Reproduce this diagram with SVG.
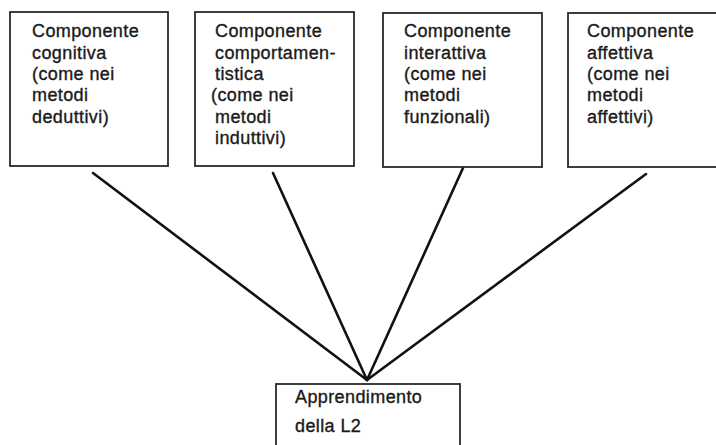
<svg xmlns="http://www.w3.org/2000/svg" width="716" height="445" viewBox="0 0 716 445">
<style>
.box{fill:#fff;stroke:#2a2a2a;stroke-width:1.8}
.t{font-family:"Liberation Sans",Arial,sans-serif;font-size:18px;letter-spacing:0.4px;fill:#1a1a1a;stroke:#1a1a1a;stroke-width:0.35}
.c{stroke:#111;stroke-width:2.6;stroke-linecap:round;fill:none}
</style>
<rect width="716" height="445" fill="#fff"/>
<g id="connectors">
<line class="c" x1="93" y1="173" x2="367" y2="380"/>
<line class="c" x1="273" y1="173" x2="367" y2="380"/>
<line class="c" x1="463" y1="168" x2="367" y2="380"/>
<line class="c" x1="646" y1="174" x2="367" y2="380"/>
</g>
<g id="n1">
<rect class="box" x="10" y="12" width="158" height="154"/>
<text class="t" x="32" y="37">Componente</text>
<text class="t" x="32" y="58.5">cognitiva</text>
<text class="t" x="32" y="80">(come nei</text>
<text class="t" x="32" y="101">metodi</text>
<text class="t" x="32" y="122.5">deduttivi)</text>
</g>
<g id="n2">
<rect class="box" x="195" y="12" width="159" height="154"/>
<text class="t" x="215" y="37">Componente</text>
<text class="t" x="215" y="58.5">comportamen-</text>
<text class="t" x="215" y="80">tistica</text>
<text class="t" x="211" y="101">(come nei</text>
<text class="t" x="215" y="122.5">metodi</text>
<text class="t" x="215" y="144">induttivi)</text>
</g>
<g id="n3">
<rect class="box" x="383" y="13" width="159" height="154"/>
<text class="t" x="404" y="37">Componente</text>
<text class="t" x="404" y="58.5">interattiva</text>
<text class="t" x="404" y="80">(come nei</text>
<text class="t" x="404" y="101">metodi</text>
<text class="t" x="404" y="122.5">funzionali)</text>
</g>
<g id="n4">
<rect class="box" x="568" y="13" width="170" height="154"/>
<text class="t" x="587" y="37">Componente</text>
<text class="t" x="587" y="58.5">affettiva</text>
<text class="t" x="587" y="80">(come nei</text>
<text class="t" x="587" y="101">metodi</text>
<text class="t" x="587" y="122.5">affettivi)</text>
</g>
<g id="n5">
<rect class="box" x="276" y="384" width="184" height="80"/>
<text class="t" x="295" y="403">Apprendimento</text>
<text class="t" x="295" y="432">della L2</text>
</g>
</svg>
